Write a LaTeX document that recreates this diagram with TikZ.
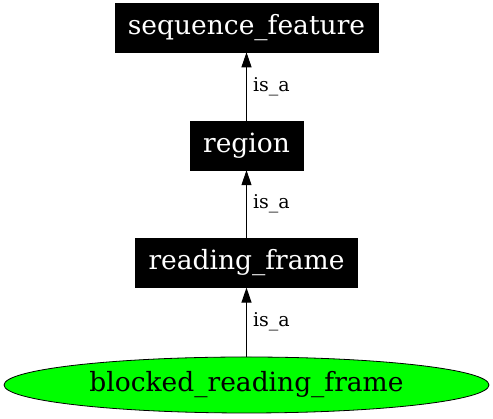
\documentclass[tikz,border=0pt]{standalone}
\usepackage{fontspec}
\setmainfont{DejaVu Serif}
\usetikzlibrary{positioning,shapes.geometric,arrows.meta}

\begin{document}
\begin{tikzpicture}[x=1pt,y=1pt,
		termnode/.style={rectangle,fill=black,draw=black,text=white,inner xsep=13pt,inner ysep=0pt,minimum height=49pt,font=\fontsize{26.5}{30}\selectfont},
		leafnode/.style={ellipse,fill=green,draw=black,line width=0.8pt,inner sep=0pt,minimum width=485pt,minimum height=56pt,font=\fontsize{26.5}{30}\selectfont},
		isa/.style={line width=1pt,-{Triangle[length=15pt,width=10pt]}},
		isalabel/.style={midway,right,inner xsep=6pt,font=\fontsize{19}{22}\selectfont}]
		\useasboundingbox (0,0) rectangle (493,419);

		\node[leafnode] at (246.5,34)									(brf)	{blocked\_reading\_frame};
		\node[termnode,node distance=69pt,above=of brf]					(rf)	{reading\_frame};
		\node[termnode,node distance=68pt,above=of rf]					(reg)	{region};
		\node[termnode,node distance=68.5pt,above=of reg]				(sf)	{sequence\_feature};

		\draw[isa] (brf) -- node[isalabel] {is\_a} (rf);
		\draw[isa] (rf) -- node[isalabel] {is\_a} (reg);
		\draw[isa] (reg) -- node[isalabel] {is\_a} (sf);
	\end{tikzpicture}
\end{document}
